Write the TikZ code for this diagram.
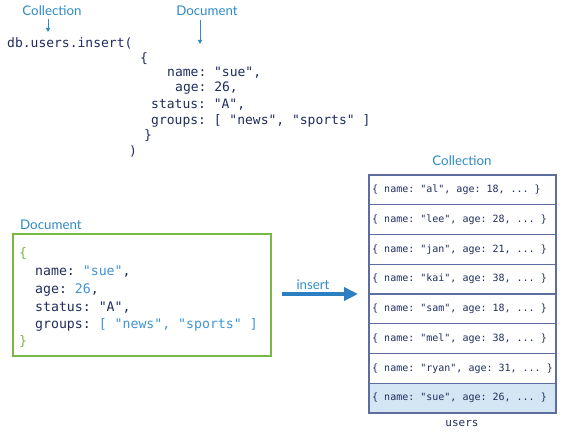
\documentclass[tikz,border=0pt]{standalone}
\usepackage{fontspec}
\setmainfont{Lato}
\newfontfamily\codefont{DejaVu Sans Mono}[WordSpace={1,0,0}]
\usetikzlibrary{arrows.meta}
\definecolor{lblue}{HTML}{2F8AC6}
\definecolor{navy}{HTML}{1F2D5C}
\definecolor{valblue}{HTML}{3F94D4}
\definecolor{docgreen}{HTML}{78B844}
\definecolor{rowfill}{HTML}{D4E6F3}
\definecolor{tborder}{HTML}{5D6D9E}
\definecolor{arrblue}{HTML}{2A80C2}
\frenchspacing
\begin{document}
\begin{tikzpicture}[x=1pt,y=-1pt,
  lbl/.style={font=\fontsize{13.3}{15}\selectfont, text=lblue, inner sep=0pt},
  code/.style={font=\codefont\fontsize{13}{15}\selectfont, text=navy, inner sep=0pt, anchor=base west},
  bcode/.style={font=\codefont\fontsize{13.2}{15}\selectfont, text=navy, inner sep=0pt, anchor=base west},
  row/.style={draw=tborder, line width=1.1pt, minimum width=187pt, minimum height=29.75pt,
    inner sep=0pt, outer sep=0pt, anchor=north west},
  rowtext/.style={font=\codefont\fontsize{10}{12}\selectfont, text=navy, inner sep=0pt, anchor=west},
  small arrow/.style={draw=lblue, line width=0.8pt, -{Triangle[length=4pt,width=4pt]}},
]
\useasboundingbox (0,0) rectangle (570,436);

% top labels
\node[lbl] (collbl) at (52,11) {Collection};
\node[lbl] (doclbl) at (207,11) {Document};
\coordinate (colltip) at (48,32);
\coordinate (doctip) at (200,44);
\draw[small arrow] (collbl.south -| colltip) ++(0,3) -- (colltip);
\draw[small arrow] (doclbl.south -| doctip) ++(0,4) -- (doctip);

% top code
\node[code] (l1) at (7,48) {db.users.insert(};
\node[code] (l2) at (140,63) {\{};
\node[code] (l3) at (167,77) {name: "sue",};
\node[code] (l4) at (175,92) {age: 26,};
\node[code] (l5) at (151,108.5) {status: "A",};
\node[code] (l6) at (151,124.5) {groups: [ "news", "sports" ]};
\node[code] (l7) at (144,139.5) {\}};
\node[code] (l8) at (129,155.5) {)};

% document box
\node[draw=docgreen, line width=1.5pt, minimum width=258pt, minimum height=122pt, anchor=north west, inner sep=0pt] (docbox) at (12,233) {};
\node[lbl, anchor=west] (doclbl2) at (20,225) {Document};
\node[bcode, text=docgreen] (b1) at (19,257) {\{};
\node[bcode] (b2) at (35,275) {name: \textcolor{valblue}{"sue"},};
\node[bcode] (b3) at (35,293) {age: \textcolor{valblue}{26},};
\node[bcode] (b4) at (35,311) {status: "A",};
\node[bcode] (b5) at (35,328) {groups: \textcolor{valblue}{[ "news", "sports" ]}};
\node[bcode, text=docgreen] (b6) at (19,345) {\}};

% collection table
\node[row] (r1) at (369,175) {};
\node[row] (r2) at (r1.south west) {};
\node[row] (r3) at (r2.south west) {};
\node[row] (r4) at (r3.south west) {};
\node[row] (r5) at (r4.south west) {};
\node[row] (r6) at (r5.south west) {};
\node[row] (r7) at (r6.south west) {};
\node[row, fill=rowfill] (r8) at (r7.south west) {};
\node[rowtext] (t1) at ([xshift=3pt]r1.west) {\{ name: "al", age: 18, ... \}};
\node[rowtext] (t2) at ([xshift=3pt]r2.west) {\{ name: "lee", age: 28, ... \}};
\node[rowtext] (t3) at ([xshift=3pt]r3.west) {\{ name: "jan", age: 21, ... \}};
\node[rowtext] (t4) at ([xshift=3pt]r4.west) {\{ name: "kai", age: 38, ... \}};
\node[rowtext] (t5) at ([xshift=3pt]r5.west) {\{ name: "sam", age: 18, ... \}};
\node[rowtext] (t6) at ([xshift=3pt]r6.west) {\{ name: "mel", age: 38, ... \}};
\node[rowtext] (t7) at ([xshift=3pt]r7.west) {\{ name: "ryan", age: 31, ... \}};
\node[rowtext] (t8) at ([xshift=3pt]r8.west) {\{ name: "sue", age: 26, ... \}};
\node[lbl] (tcoll) at (462,161) {Collection};
\node[font=\codefont\fontsize{11}{13}\selectfont, text=navy, inner sep=0pt] (users) at (462,423) {users};

% insert arrow
\coordinate (astart) at (282,294);
\coordinate (aend) at (358,294);
\draw[arrblue, line width=4pt, -{Triangle[length=14pt,width=13pt]}] (astart) -- (aend);
\node[lbl, anchor=base] (inslbl) at (313,289) {insert};
\end{tikzpicture}
\end{document}
